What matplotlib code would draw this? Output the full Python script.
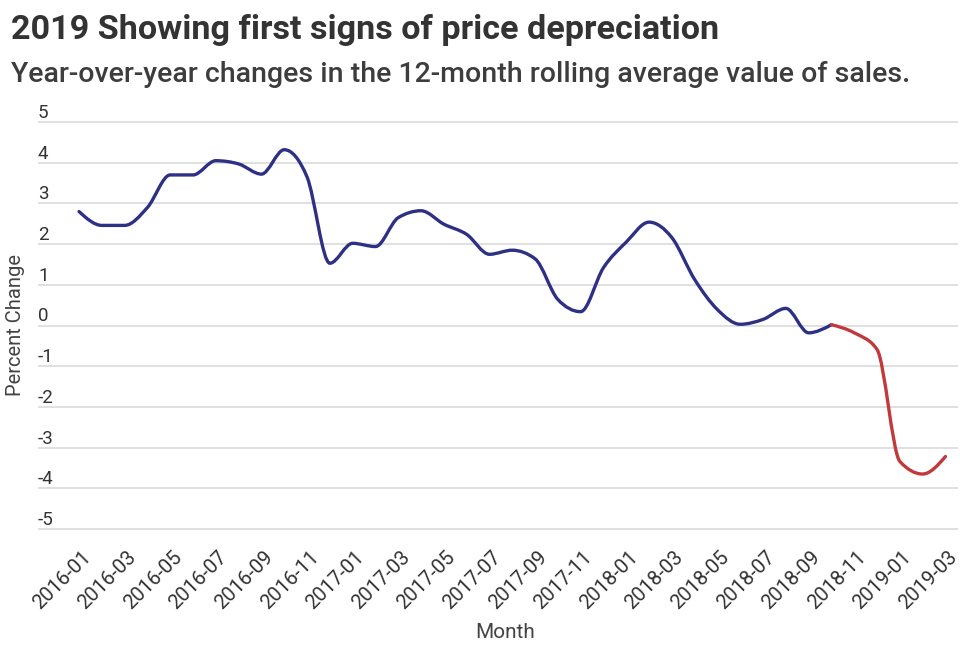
import numpy as np
import matplotlib
matplotlib.use("Agg")
import matplotlib.pyplot as plt
from matplotlib.path import Path
from matplotlib.patches import PathPatch
from matplotlib.transforms import blended_transform_factory, ScaledTranslation

plt.rcParams['font.family'] = ['Roboto', 'DejaVu Sans']

months = ['2016-01', '2016-02', '2016-03', '2016-04', '2016-05', '2016-06', '2016-07',
          '2016-08', '2016-09', '2016-10', '2016-11', '2016-12', '2017-01', '2017-02',
          '2017-03', '2017-04', '2017-05', '2017-06', '2017-07', '2017-08', '2017-09',
          '2017-10', '2017-11', '2017-12', '2018-01', '2018-02', '2018-03', '2018-04',
          '2018-05', '2018-06', '2018-07', '2018-08', '2018-09', '2018-10', '2018-11',
          '2018-12', '2019-01', '2019-02', '2019-03']
values = [2.80, 2.46, 2.46, 2.90, 3.70, 3.70, 4.05, 3.97, 3.72, 4.32, 3.65, 1.53,
          2.02, 1.94, 2.65, 2.82, 2.49, 2.24, 1.75, 1.85, 1.64, 0.64, 0.34, 1.42,
          2.05, 2.54, 2.16, 1.13, 0.39, 0.03, 0.15, 0.42, -0.18, 0.02, -0.18, -0.59,
          -3.34, -3.65, -3.22]
split_month = '2018-10'
yticks = [5, 4, 3, 2, 1, 0, -1, -2, -3, -4, -5]
xtick_labels = months[::2]

BLUE = '#2e3183'
RED = '#c2393b'


def monotone_path(xs, ys):
    xs = np.asarray(xs, float)
    ys = np.asarray(ys, float)
    n = len(xs)
    t = np.zeros(n)
    for i in range(1, n - 1):
        h0 = xs[i] - xs[i - 1]
        h1 = xs[i + 1] - xs[i]
        s0 = (ys[i] - ys[i - 1]) / h0
        s1 = (ys[i + 1] - ys[i]) / h1
        p = (s0 * h1 + s1 * h0) / (h0 + h1)
        t[i] = (np.sign(s0) + np.sign(s1)) * min(abs(s0), abs(s1), 0.5 * abs(p))
    if n > 2:
        h = xs[1] - xs[0]
        t[0] = (3 * (ys[1] - ys[0]) / h - t[1]) / 2
        h = xs[-1] - xs[-2]
        t[-1] = (3 * (ys[-1] - ys[-2]) / h - t[-2]) / 2
    else:
        t[:] = (ys[1] - ys[0]) / (xs[1] - xs[0])
    verts = [(xs[0], ys[0])]
    codes = [Path.MOVETO]
    for i in range(n - 1):
        dx = (xs[i + 1] - xs[i]) / 3
        verts += [(xs[i] + dx, ys[i] + dx * t[i]),
                  (xs[i + 1] - dx, ys[i + 1] - dx * t[i + 1]),
                  (xs[i + 1], ys[i + 1])]
        codes += [Path.CURVE4] * 3
    return Path(verts, codes)


fig = plt.figure(figsize=(9.6, 6.53), dpi=100)
ax = fig.add_axes([38 / 960, 1 - 531 / 653, 920 / 960, 411 / 653])

x = np.arange(len(months))
k = months.index(split_month)

ax.add_patch(PathPatch(monotone_path(x[:k + 1], values[:k + 1]), fill=False,
                       edgecolor=BLUE, lw=2.4, capstyle='round', joinstyle='round', zorder=3))
ax.add_patch(PathPatch(monotone_path(x[k:], values[k:]), fill=False,
                       edgecolor=RED, lw=2.4, capstyle='round', joinstyle='round', zorder=3))

ax.set_xlim(-1.8, 38.55)
ax.set_ylim(-5.05, 5.05)

for s in ax.spines.values():
    s.set_visible(False)

ax.set_yticks(yticks)
ax.yaxis.grid(True, color='#e0e0e0', lw=1.4)
ax.set_axisbelow(True)
ax.tick_params(axis='y', length=0, labelleft=False)

tr = blended_transform_factory(ax.transAxes, ax.transData)
for v in yticks:
    ax.text(0.0, v + 0.1, f"{v}", transform=tr, ha='left', va='baseline',
            fontsize=13.5, color='#333333')

ax.set_xticks(x[::2])
ax.set_xticklabels(xtick_labels, rotation=45, ha='right', rotation_mode='anchor',
                   fontsize=14.5, color='#333333')
ax.tick_params(axis='x', length=0, pad=12)
off = ScaledTranslation(2 / 100, 0, fig.dpi_scale_trans)
for lab in ax.get_xticklabels():
    lab.set_transform(lab.get_transform() + off)

fig.text(505 / 960, 1 - 633 / 653, 'Month', ha='center', va='center',
         fontsize=15, color='#444444')
fig.text(16 / 960, 1 - 325 / 653, 'Percent Change', ha='center', va='center',
         rotation=90, fontsize=14.5, color='#444444')

fig.text(11 / 960, 1 - 39 / 653, '2019 Showing first signs of price depreciation',
         ha='left', va='baseline', fontsize=24.6, fontweight='bold', color='#333333')
fig.text(11 / 960, 1 - 82 / 653,
         'Year-over-year changes in the 12-month rolling average value of sales.',
         ha='left', va='baseline', fontsize=20.5, fontweight='medium', color='#3d3d3d')

fig.savefig('out.png', dpi=100, facecolor='white')
